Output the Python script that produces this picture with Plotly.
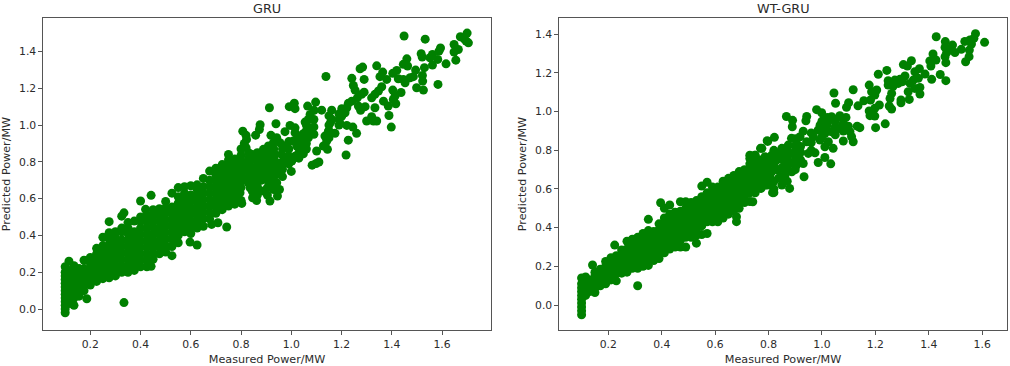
import plotly.graph_objects as go

TITLES = ["GRU", "WT-GRU"]
X_LABEL = "Measured Power/MW"
Y_LABEL = "Predicted Power/MW"
X_TICKS = [0.2, 0.4, 0.6, 0.8, 1.0, 1.2, 1.4, 1.6]
Y_TICKS_GRU = [0.0, 0.2, 0.4, 0.6, 0.8, 1.0, 1.2, 1.4]
Y_TICKS_WT = [0.0, 0.2, 0.4, 0.6, 0.8, 1.0, 1.2, 1.4]

gru_band = [
    (0.10, [-.02, 0, .02, .04, .06, .08, .10, .12, .14, .16, .18, .20, .23]),
    (0.115, [.03, .06, .09, .12, .15, .18, .21, .26]),
    (0.135, [.02, .06, .09, .12, .15, .18, .21, .235]),
    (0.155, [.07, .10, .13, .16, .19, .22]),
    (0.175, [.10, .13, .16, .19, .22, .265]),
    (0.186, [.056]),
    (0.20, [.13, .16, .19, .22, .25, .28]),
    (0.225, [.15, .18, .21, .24, .27, .30, .33]),
    (0.25, [.165, .195, .225, .255, .285, .315, .345, .39]),
    (0.275, [.17, .20, .23, .26, .29, .32, .35, .38, .415, .475]),
    (0.30, [.18, .21, .24, .27, .30, .33, .36, .39, .42]),
    (0.325, [.20, .235, .27, .305, .34, .375, .42, .44, .505]),
    (0.334, [.035, .523]),
    (0.35, [.20, .235, .27, .305, .34, .375, .41, .44, .47]),
    (0.375, [.21, .245, .28, .315, .35, .385, .42, .478]),
    (0.40, [.23, .265, .30, .335, .37, .405, .44, .475, .50, .587]),
    (0.42, [.542]),
    (0.425, [.23, .265, .30, .335, .37, .405, .44, .475, .51]),
    (0.442, [.232, .618]),
    (0.45, [.27, .305, .34, .375, .41, .445, .48, .515, .54]),
    (0.475, [.30, .335, .37, .405, .44, .475, .51, .545]),
    (0.50, [.31, .345, .38, .415, .45, .485, .52, .55, .585]),
    (0.525, [.29, .34, .38, .415, .45, .485, .52, .555, .63]),
    (0.55, [.36, .40, .435, .47, .505, .54, .575, .61, .66]),
    (0.575, [.42, .455, .49, .525, .56, .595, .63, .665]),
    (0.597, [.364]),
    (0.60, [.41, .445, .48, .515, .55, .585, .62, .67]),
    (0.625, [.348, .44, .475, .51, .545, .58, .615, .65, .675]),
    (0.65, [.45, .49, .525, .56, .595, .63, .665, .71]),
    (0.675, [.49, .525, .56, .595, .63, .665, .70, .75]),
    (0.683, [.46]),
    (0.70, [.52, .555, .59, .625, .66, .695, .73, .765]),
    (0.708, [.469]),
    (0.725, [.54, .575, .61, .645, .68, .715, .75, .785]),
    (0.743, [.446]),
    (0.75, [.56, .595, .63, .665, .70, .735, .77, .81, .84]),
    (0.775, [.57, .605, .64, .675, .71, .745, .78, .815]),
    (0.80, [.59, .66, .695, .73, .765, .80, .835, .87]),
    (0.83, [.75, .78, .82, .85]),
    (0.845, [.64, .70, .74, .84]),
    (0.865, [.62, .665, .705, .745, .78, .85]),
    (0.88, [.70, .74, .78, .81]),
    (0.905, [.62, .66, .70, .775, .82]),
    (0.93, [.65, .70, .78, .82, .87]),
    (0.965, [.72, .76, .80, .87]),
    (0.99, [.79, .83, .87, .91]),
    (1.03, [.82, .85, .90, .94]),
    (1.06, [.87, .90, .93, .97, 1.0]),
    (1.09, [.95, .99, 1.03]),
    (1.15, [.93, .97, 1.0, 1.05]),
    (1.19, [1.0, 1.03, 1.06]),
]

# GRU: sparser upper part, point by point (measured, predicted)
gru_sparse = [
    (1.449, 1.484), (1.533, 1.467), (1.700, 1.500), (1.673, 1.480), (1.688, 1.469), (1.705, 1.447), (1.696, 1.457),
    (1.648, 1.438), (1.665, 1.411), (1.648, 1.397), (1.655, 1.353), (1.616, 1.333), (1.594, 1.419), (1.588, 1.402),
    (1.583, 1.357), (1.562, 1.384), (1.552, 1.366), (1.562, 1.326), (1.530, 1.312), (1.517, 1.388), (1.521, 1.370),
    (1.584, 1.221), (1.526, 1.190), (1.499, 1.203), (1.523, 1.239), (1.522, 1.270), (1.495, 1.299), (1.460, 1.360),
    (1.446, 1.330), (1.463, 1.321), (1.340, 1.322), (1.284, 1.315), (1.274, 1.306), (1.138, 1.264), (1.241, 1.254),
    (1.290, 1.248), (1.364, 1.288), (1.353, 1.263), (1.380, 1.248), (1.420, 1.297), (1.404, 1.281), (1.426, 1.252),
    (1.453, 1.230), (1.473, 1.257), (1.486, 1.263), (1.446, 1.248), (1.247, 1.215), (1.254, 1.190), (1.290, 1.179),
    (1.280, 1.167), (1.360, 1.208), (1.347, 1.185), (1.333, 1.167), (1.320, 1.148), (1.404, 1.190), (1.437, 1.177),
    (1.413, 1.158), (1.406, 1.139), (1.416, 1.116), (1.367, 1.130), (1.386, 1.103), (1.333, 1.094), (1.263, 1.148),
    (1.241, 1.130), (1.227, 1.118), (1.267, 1.103), (1.294, 1.100), (1.276, 1.080), (1.201, 1.089), (1.221, 1.094),
    (1.214, 1.067), (1.201, 1.049), (1.161, 1.081), (1.161, 1.031), (1.157, 1.016), (1.194, 1.009), (1.221, 0.998),
    (1.245, 0.989), (1.260, 0.955), (1.174, 0.955), (1.148, 0.967), (1.134, 0.940), (1.141, 0.913), (1.128, 0.886),
    (1.144, 0.868), (1.101, 0.859), (1.227, 0.918), (1.300, 1.022), (1.320, 1.045), (1.327, 1.022), (1.340, 1.022),
    (1.389, 1.052), (1.398, 0.989), (1.218, 0.837), (1.110, 0.799), (1.099, 0.791), (1.083, 0.782), (1.000, 0.748),
    (0.913, 1.094), (0.992, 1.100), (1.012, 1.119), (1.015, 1.089), (1.065, 1.103), (1.097, 1.125), (1.091, 1.080),
    (1.121, 1.081), (1.075, 1.058), (1.068, 1.031), (1.055, 1.016), (1.075, 0.985), (1.081, 0.958), (1.048, 0.953),
    (1.068, 0.931), (1.015, 0.985), (0.995, 0.998), (0.939, 1.007), (0.876, 1.002), (0.873, 0.976), (0.858, 0.945),
    (0.807, 0.967), (0.813, 0.900), (0.820, 0.877), (0.919, 0.944), (0.942, 0.931), (0.975, 0.964), (1.015, 0.958),
    (1.035, 0.922), (1.008, 0.913), (1.022, 0.886), (1.041, 0.877), (1.048, 0.844), (1.015, 0.831), (1.002, 0.804),
    (0.975, 0.886), (0.955, 0.904), (0.929, 0.904), (0.909, 0.886), (0.889, 0.868), (0.876, 0.831), (0.896, 0.831),
    (0.915, 0.849), (0.935, 0.840), (0.962, 0.840), (0.982, 0.822), (0.969, 0.795), (0.942, 0.795), (0.922, 0.795),
    (0.902, 0.795), (0.876, 0.795), (0.856, 0.813), (0.836, 0.804), (0.816, 0.795), (0.796, 0.768), (0.823, 0.759),
    (0.849, 0.768), (0.876, 0.759), (0.902, 0.759), (0.929, 0.759), (0.955, 0.768), (0.942, 0.732), (0.915, 0.732),
    (0.889, 0.723), (0.862, 0.723), (0.836, 0.723), (0.809, 0.714), (0.796, 0.686), (0.829, 0.686), (0.856, 0.686),
    (0.889, 0.641), (0.869, 0.647), (0.836, 0.659), (0.915, 0.686), (0.942, 0.686), (0.953, 0.650), (0.945, 0.614),
    (0.915, 0.587), (0.862, 0.590), (0.846, 0.605), (0.803, 0.574), (0.796, 0.632), (0.822, 0.922), (0.820, 0.944),
]

wt_band = [
    (0.10, [-.05, -.03, -.01, .01, .03, .05, .07, .09, .11, .14]),
    (0.115, [.05, .07, .10, .13, .145]),
    (0.13, [.07, .10, .13]),
    (0.141, [.207]),
    (0.15, [.065, .09, .12, .15, .17]),
    (0.17, [.10, .13, .16, .185]),
    (0.19, [.11, .14, .17, .20, .225]),
    (0.21, [.13, .16, .19, .22, .245]),
    (0.224, [.31]),
    (0.23, [.125, .165, .195, .225, .255]),
    (0.25, [.165, .195, .225, .255, .285]),
    (0.27, [.17, .20, .23, .26, .29, .33]),
    (0.29, [.19, .22, .25, .28, .31, .34]),
    (0.31, [.10, .19, .22, .25, .28, .31, .35]),
    (0.33, [.20, .23, .26, .29, .32, .355, .37]),
    (0.35, [.205, .24, .27, .30, .33, .36, .385, .443]),
    (0.37, [.23, .26, .29, .32, .35, .38]),
    (0.39, [.24, .27, .30, .33, .36, .39, .42]),
    (0.396, [.529]),
    (0.41, [.27, .30, .33, .36, .39, .42, .45, .50]),
    (0.43, [.29, .32, .35, .38, .41, .44, .47, .517]),
    (0.45, [.30, .33, .36, .39, .42, .45, .48]),
    (0.47, [.30, .335, .365, .395, .425, .455, .485, .534]),
    (0.49, [.30, .35, .38, .41, .44, .47, .50, .534]),
    (0.51, [.35, .38, .41, .44, .47, .50, .53]),
    (0.53, [.32, .36, .39, .42, .45, .48, .51, .54]),
    (0.55, [.365, .41, .44, .47, .50, .53, .56, .615]),
    (0.57, [.37, .43, .46, .49, .52, .55, .58, .635]),
    (0.59, [.43, .46, .49, .52, .55, .58, .61]),
    (0.61, [.43, .46, .49, .52, .55, .58, .61]),
    (0.63, [.45, .48, .51, .54, .57, .60, .64]),
    (0.65, [.47, .50, .53, .56, .59, .62, .655]),
    (0.67, [.49, .52, .55, .58, .61, .64, .67]),
    (0.68, [.431, .457]),
    (0.69, [.50, .53, .56, .59, .62, .65, .69]),
    (0.71, [.53, .56, .59, .62, .65, .68, .70]),
    (0.73, [.535, .58, .61, .64, .67, .70, .73, .775]),
    (0.75, [.58, .61, .64, .67, .70, .73, .76, .775]),
    (0.77, [.605, .63, .66, .69, .72, .75, .81]),
    (0.795, [.62, .65, .68, .71, .74, .85]),
    (0.82, [.60, .64, .70, .72, .76, .80]),
    (0.85, [.62, .66, .71, .77, .81]),
    (0.87, [.64, .70, .72, .76, .80]),
    (0.90, [.70, .75, .79, .82, .86]),
    (0.92, [.75, .79, .82]),
    (0.96, [.80, .84, .89]),
    (1.00, [.87, .91, .95]),
    (1.02, [.93, .97]),
    (1.05, [.88, .92, .96]),
    (1.08, [.90, .96]),
]

# WT-GRU: sparser upper part, point by point
wt_sparse = [
    (1.428, 1.387), (1.462, 1.362), (1.489, 1.344), (1.461, 1.332), (1.479, 1.318), (1.498, 1.305), (1.467, 1.305),
    (1.461, 1.284), (1.464, 1.253), (1.522, 1.322), (1.575, 1.403), (1.569, 1.379), (1.554, 1.370), (1.535, 1.363),
    (1.560, 1.349), (1.609, 1.358), (1.552, 1.318), (1.551, 1.284), (1.538, 1.258), (1.416, 1.298), (1.427, 1.267),
    (1.404, 1.262), (1.408, 1.236), (1.335, 1.263), (1.305, 1.243), (1.320, 1.236), (1.243, 1.213), (1.211, 1.193),
    (1.365, 1.222), (1.348, 1.206), (1.386, 1.194), (1.411, 1.167), (1.443, 1.192), (1.464, 1.160), (1.311, 1.184),
    (1.292, 1.167), (1.273, 1.163), (1.248, 1.160), (1.248, 1.137), (1.267, 1.132), (1.286, 1.146), (1.302, 1.155),
    (1.342, 1.163), (1.361, 1.172), (1.330, 1.146), (1.323, 1.103), (1.367, 1.125), (1.367, 1.091), (1.348, 1.120),
    (1.327, 1.063), (1.296, 1.060), (1.296, 1.046), (1.261, 1.094), (1.255, 1.068), (1.252, 1.029), (1.261, 1.013),
    (1.177, 1.137), (1.186, 1.103), (1.205, 1.112), (1.198, 1.086), (1.182, 1.060), (1.157, 1.056), (1.215, 1.034),
    (1.198, 1.017), (1.177, 1.003), (1.180, 0.979), (1.198, 0.977), (1.201, 0.917), (1.237, 0.937), (1.045, 1.096),
    (1.117, 1.113), (1.051, 1.043), (1.100, 1.046), (1.092, 1.022), (1.135, 1.030), (0.980, 1.010), (0.999, 0.994),
    (0.943, 0.975), (0.940, 0.953), (0.867, 0.975), (0.890, 0.955), (0.889, 0.922), (1.036, 0.974), (1.067, 0.979),
    (1.090, 0.970), (1.049, 0.948), (1.024, 0.956), (1.080, 0.939), (1.099, 0.925), (1.132, 0.925), (1.142, 0.917),
    (0.993, 0.930), (0.986, 0.905), (1.011, 0.913), (1.061, 0.913), (1.036, 0.896), (1.011, 0.887), (1.105, 0.896),
    (1.117, 0.844), (1.080, 0.848), (1.111, 0.870), (0.968, 0.870), (0.993, 0.853), (1.024, 0.844), (1.042, 0.810),
    (1.011, 0.818), (0.930, 0.899), (0.918, 0.870), (0.886, 0.862), (0.822, 0.867), (0.797, 0.846), (0.775, 0.810),
    (0.943, 0.844), (0.905, 0.836), (0.874, 0.827), (0.974, 0.787), (0.986, 0.737), (1.011, 0.763), (1.033, 0.730),
    (0.949, 0.784), (0.930, 0.732), (0.933, 0.663), (0.879, 0.603), (0.911, 0.767), (0.887, 0.784), (0.855, 0.793),
    (0.837, 0.784), (0.812, 0.775), (0.787, 0.767), (0.749, 0.775), (0.730, 0.758), (0.755, 0.732), (0.780, 0.724),
    (0.805, 0.732), (0.830, 0.749), (0.855, 0.749), (0.880, 0.732), (0.905, 0.724), (0.887, 0.689), (0.862, 0.698),
    (0.837, 0.698), (0.812, 0.689), (0.787, 0.689), (0.762, 0.689), (0.737, 0.698), (0.730, 0.663), (0.755, 0.655),
    (0.780, 0.655), (0.805, 0.663), (0.837, 0.655), (0.862, 0.672), (0.812, 0.620), (0.787, 0.620), (0.772, 0.603),
    (0.737, 0.586), (0.741, 0.534), (0.815, 0.581), (0.820, 0.581),
]


def flatten(band, sparse):
    xs, ys = [], []
    for x, col in band:
        for y in col:
            xs.append(x)
            ys.append(y)
    for x, y in sparse:
        xs.append(x)
        ys.append(y)
    return xs, ys


W, H = 1010, 366
TOP, BOTTOM = 18, 330
LEFT_A, RIGHT_A = 43, 491
LEFT_B, RIGHT_B = 559, 1007
GREEN = "#008000"
INK = "#2b2b2b"
FRAME = "#555555"
FONT = "DejaVu Sans"

fig = go.Figure()
for (band, sparse), xa, ya in [((gru_band, gru_sparse), "x", "y"), ((wt_band, wt_sparse), "x2", "y2")]:
    xs, ys = flatten(band, sparse)
    fig.add_trace(go.Scatter(x=xs, y=ys, mode="markers", xaxis=xa, yaxis=ya, showlegend=False,
                             marker=dict(color=GREEN, size=9.0, line=dict(width=0))))


def axis(domain, rng, ticks, title, standoff, anchor):
    return dict(domain=domain, range=rng, tickmode="array", tickvals=ticks,
                ticktext=[f"{t:.1f}" for t in ticks], anchor=anchor, showgrid=False, zeroline=False,
                showline=True, linecolor=FRAME, linewidth=1.2, mirror=True, ticks="outside", ticklen=3.5,
                tickwidth=1, tickcolor=FRAME, tickfont=dict(family=FONT, size=10.8, color=INK),
                title=dict(text=title, standoff=standoff, font=dict(family=FONT, size=11.2, color=INK)))


y_dom = [1 - BOTTOM / H, 1 - TOP / H]
fig.update_layout(
    width=W, height=H, autosize=False, margin=dict(l=0, r=0, t=0, b=0),
    paper_bgcolor="white", plot_bgcolor="white", showlegend=False,
    xaxis=axis([LEFT_A / W, RIGHT_A / W], [0.0117, 1.795], X_TICKS, X_LABEL, 6, "y"),
    yaxis=axis(y_dom, [-0.114, 1.582], Y_TICKS_GRU, Y_LABEL, 6, "x"),
    xaxis2=axis([LEFT_B / W, RIGHT_B / W], [0.0154, 1.693], X_TICKS, X_LABEL, 6, "y2"),
    yaxis2=axis(y_dom, [-0.129, 1.484], Y_TICKS_WT, Y_LABEL, 6, "x2"),
)
for text, left, right in [(TITLES[0], LEFT_A, RIGHT_A), (TITLES[1], LEFT_B, RIGHT_B)]:
    fig.add_annotation(text=text, xref="paper", yref="paper", x=(left + right) / 2 / W, y=1 - 8 / H,
                       xanchor="center", yanchor="middle", showarrow=False,
                       font=dict(family=FONT, size=12.8, color=INK))

fig.write_html("out.html", config={"displayModeBar": False},
               post_script="document.body.style.margin='0';document.documentElement.style.overflow='hidden';")
